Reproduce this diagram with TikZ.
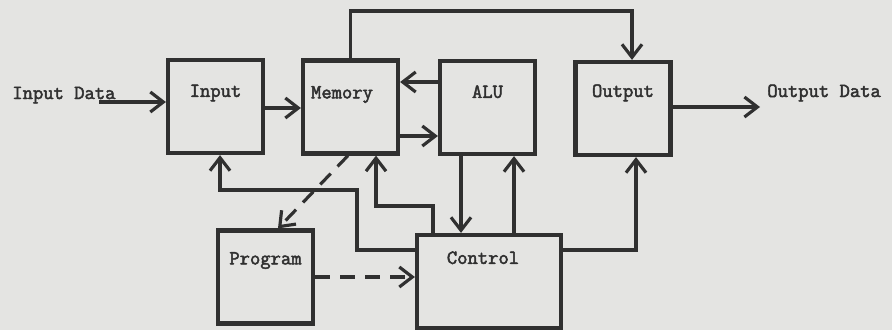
\documentclass[tikz,border=0pt]{standalone}
\usepackage{tikz}
\usepackage{fontspec}
\newfontfamily\typewriter[FakeBold=2.4]{Latin Modern Mono}
\usetikzlibrary{arrows.meta}
\definecolor{paper}{HTML}{E4E4E2}
\definecolor{ink}{HTML}{303030}

\begin{document}
\begin{tikzpicture}[
  x=0.02cm, y=-0.02cm,
  every node/.style={font=\typewriter\fontsize{11.4}{13}\selectfont, text=ink},
  unit/.style={draw=ink, line width=2.4pt, minimum width=1.9cm, minimum height=1.86cm, inner sep=0pt},
  lbl/.style={anchor=base, yshift=-0.78cm},
  link/.style={-{Straight Barb[length=2.6mm,width=4mm]}, draw=ink, line width=1.8pt},
  dlink/.style={link, dash pattern=on 3mm off 2mm}
]
  % Paper, fixes the size (units are pixels of the 892x330 sheet)
  \fill[paper] (0,0) rectangle (892,330);

  % Units
  \node[unit, label={[lbl]north:Input}]                    (input)   at (215.5,106.5) {};
  \node[unit, label={[lbl,xshift=-0.17cm,yshift=-0.02cm]north:Memory}] (memory) at (350.5,107) {};
  \node[unit, label={[lbl]north:ALU}]                      (alu)     at (487.5,107.5) {};
  \node[unit, label={[lbl,yshift=0.04cm]north:Output}]     (output)  at (623,108.5) {};
  \node[unit, minimum width=2.88cm,
        label={[lbl,yshift=0.16cm,xshift=-0.12cm]north:Control}] (control) at (489,281.5) {};
  \node[unit, label={[lbl,yshift=0.06cm]north:Program}]    (program) at (265.5,277) {};

  % Outside data
  \node[anchor=base west, inner sep=0pt] (indata)  at (12,99)  {Input Data};
  \node[anchor=base west, inner sep=0pt] (outdata) at (767,97) {Output Data};
  \coordinate (instart) at (99,102);
  \coordinate (outend)  at (760,107);
  \coordinate (bus)     at (632,11);

  % Data paths
  \draw[link] (instart) -- (instart -| input.west);
  \draw[link] (input.east |- 0,108) -- (memory.west |- 0,108);
  \draw[link] (alu.west |- 0,82) -- (memory.east |- 0,82);
  \draw[link] (memory.east |- 0,136) -- (alu.west |- 0,136);
  \draw[link] (memory.north) |- (bus) -- (bus |- output.north);
  \draw[link] (output.east |- 0,107) -- (outend);

  % Control paths
  \draw[link] (control.west |- 0,250) -| (357,190) -| (input.south -| 220,0);
  \draw[link] (control.north -| 433,0) |- (376,206) -- (memory.south -| 376,0);
  \draw[link] (alu.south -| 461,0) -- (control.north -| 461,0);
  \draw[link] (control.north -| 514,0) -- (alu.south -| 514,0);
  \draw[link] (control.east |- 0,250) -| (output.south -| 636,0);

  % Program paths
  \draw[dlink] (memory.south -| 348,0) -- (program.north -| 278,0);
  \draw[dlink] (program.east) -- (program.east -| control.west);
\end{tikzpicture}
\end{document}
